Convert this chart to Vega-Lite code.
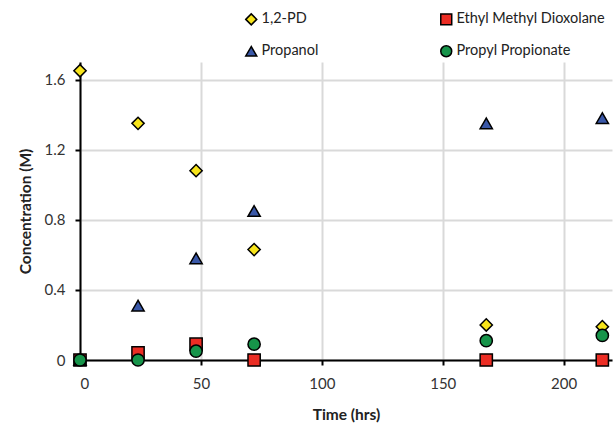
{
  "$schema": "https://vega.github.io/schema/vega-lite/v6.json",
  "width": 532,
  "height": 298,
  "autosize": "none",
  "padding": {"left": 80, "top": 62, "right": 3, "bottom": 69},
  "background": "white",
  "config": {
    "view": {"stroke": null},
    "font": "Lato"
  },
  "data": {
    "values": [
      {"time": 0, "conc": 1.65, "series": "1,2-PD"},
      {"time": 24, "conc": 1.35, "series": "1,2-PD"},
      {"time": 48, "conc": 1.08, "series": "1,2-PD"},
      {"time": 72, "conc": 0.63, "series": "1,2-PD"},
      {"time": 168, "conc": 0.20, "series": "1,2-PD"},
      {"time": 216, "conc": 0.19, "series": "1,2-PD"},
      {"time": 0, "conc": 0, "series": "Propanol"},
      {"time": 24, "conc": 0.31, "series": "Propanol"},
      {"time": 48, "conc": 0.58, "series": "Propanol"},
      {"time": 72, "conc": 0.85, "series": "Propanol"},
      {"time": 168, "conc": 1.35, "series": "Propanol"},
      {"time": 216, "conc": 1.38, "series": "Propanol"},
      {"time": 0, "conc": 0, "series": "Ethyl Methyl Dioxolane"},
      {"time": 24, "conc": 0.04, "series": "Ethyl Methyl Dioxolane"},
      {"time": 48, "conc": 0.09, "series": "Ethyl Methyl Dioxolane"},
      {"time": 72, "conc": 0, "series": "Ethyl Methyl Dioxolane"},
      {"time": 168, "conc": 0, "series": "Ethyl Methyl Dioxolane"},
      {"time": 216, "conc": 0, "series": "Ethyl Methyl Dioxolane"},
      {"time": 0, "conc": 0, "series": "Propyl Propionate"},
      {"time": 24, "conc": 0, "series": "Propyl Propionate"},
      {"time": 48, "conc": 0.05, "series": "Propyl Propionate"},
      {"time": 72, "conc": 0.09, "series": "Propyl Propionate"},
      {"time": 168, "conc": 0.11, "series": "Propyl Propionate"},
      {"time": 216, "conc": 0.14, "series": "Propyl Propionate"}
    ]
  },
  "mark": {"type": "point", "filled": true, "size": 150, "stroke": "black", "strokeWidth": 1.5, "opacity": 1, "clip": false},
  "encoding": {
    "x": {
      "field": "time", "type": "quantitative",
      "scale": {"domain": [0, 220], "nice": false, "zero": true},
      "axis": {
        "title": "Time (hrs)", "values": [0, 50, 100, 150, 200],
        "grid": true, "gridColor": "#d9d9d9", "gridWidth": 2,
        "domainColor": "black", "domainWidth": 2,
        "tickColor": "black", "tickWidth": 2, "tickSize": 5,
        "labelFont": "Lato", "labelFontSize": 15, "labelColor": "#333333", "labelPadding": 11,
        "titleFont": "Lato", "titleFontSize": 15.5, "titleFontWeight": "bold", "titleColor": "#222222", "titlePadding": 16
      }
    },
    "y": {
      "field": "conc", "type": "quantitative",
      "scale": {"domain": [0, 1.7], "nice": false},
      "axis": {
        "title": "Concentration (M)", "values": [0, 0.4, 0.8, 1.2, 1.6],
        "format": ".1~f",
        "grid": true, "gridColor": "#d9d9d9", "gridWidth": 2,
        "domainColor": "black", "domainWidth": 2,
        "tickColor": "black", "tickWidth": 2, "tickSize": 5,
        "labelFont": "Lato", "labelFontSize": 15, "labelColor": "#333333", "labelPadding": 10,
        "titleFont": "Lato", "titleFontSize": 15.5, "titleFontWeight": "bold", "titleColor": "#222222", "titlePadding": 11
      }
    },
    "color": {
      "field": "series", "type": "nominal",
      "scale": {
        "domain": ["1,2-PD", "Ethyl Methyl Dioxolane", "Propanol", "Propyl Propionate"],
        "range": ["#f7e41b", "#ec2d24", "#3a58a8", "#17944a"]
      },
      "legend": {
        "title": null, "orient": "none", "legendX": 164, "legendY": -50, "padding": 0,
        "direction": "horizontal", "columns": 2, "columnPadding": 118, "rowPadding": 14,
        "labelFont": "Lato", "labelFontSize": 14.5, "labelColor": "#222222",
        "symbolStrokeColor": "black", "symbolStrokeWidth": 1.5, "symbolSize": 120, "labelOffset": 3
      }
    },
    "shape": {
      "field": "series", "type": "nominal",
      "scale": {
        "domain": ["1,2-PD", "Ethyl Methyl Dioxolane", "Propanol", "Propyl Propionate"],
        "range": ["diamond", "square", "triangle-up", "circle"]
      },
      "legend": null
    },
    "order": {"field": "series", "type": "nominal"}
  }
}
